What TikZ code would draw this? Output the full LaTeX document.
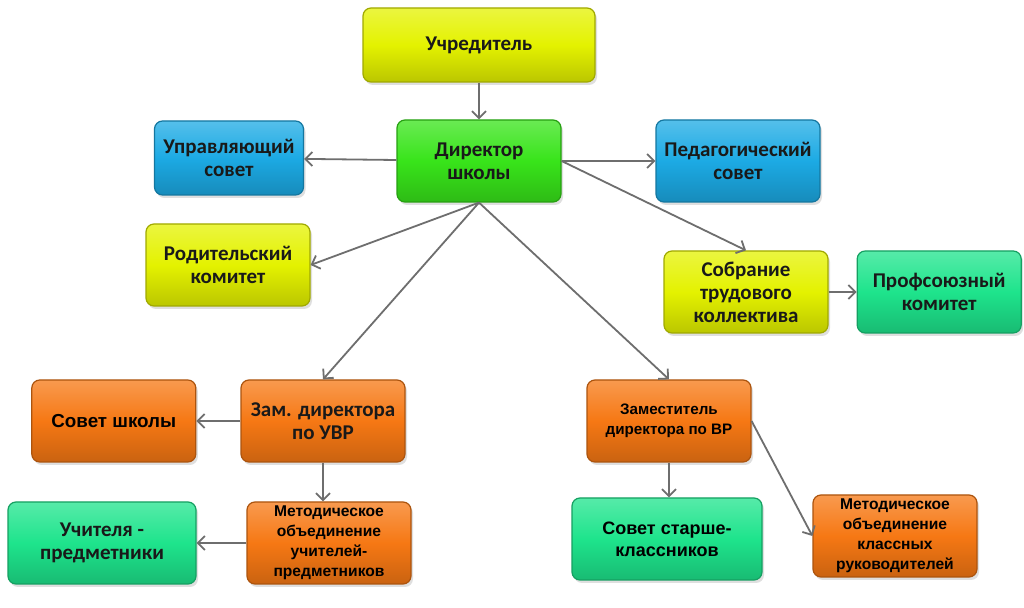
\documentclass[tikz,border=0pt]{standalone}
\usepackage{fontspec}
\setmainfont{Carlito}
\newfontfamily\arialfont{Liberation Sans}
\usetikzlibrary{positioning,arrows.meta,shadows}
\definecolor{blokyellow}{HTML}{E4F200}
\definecolor{blokgreen}{HTML}{38E41A}
\definecolor{blokblue}{HTML}{1CAAE4}
\definecolor{blokorange}{HTML}{F67814}
\definecolor{blokteal}{HTML}{1EE48C}
\definecolor{arrowgray}{HTML}{6E6E6E}

\begin{document}
\begin{tikzpicture}[
      x=0.5pt, y=-0.5pt,
      blk/.style={draw=#1!70!black,line width=0.6pt,rounded corners=4pt,
        top color=#1!75!white,bottom color=#1!82!black,middle color=#1,
        align=center,text=black!90,inner sep=1pt,
        font=\bfseries\fontsize{10.5}{11.5}\selectfont,
        minimum width=82pt,minimum height=41pt,
        drop shadow={opacity=0.25,shadow xshift=1pt,shadow yshift=-1.5pt}},
      ari/.style={font=\arialfont\bfseries\fontsize{#1}{10}\selectfont,text=black},
      arr/.style={-{Straight Barb[length=3.5pt,width=7pt]},line width=0.9pt,draw=arrowgray}
    ]
    \fill[white] (0,0) rectangle (1024,608);
    \useasboundingbox (0,0) rectangle (1024,608);

    % top level
    \node[blk=blokyellow, minimum width=116pt, minimum height=37pt] (uchr) at (479,45) {Учредитель};
    \node[blk=blokgreen] (dir) at (479,161) {Директор\\школы};
    \node[blk=blokblue, minimum width=74.5pt, minimum height=37pt] (upr) at (229,158) {Управляющий\\совет};
    \node[blk=blokblue] (ped) at (738,161) {Педагогический\\совет};
    \node[blk=blokyellow] (rod) at (228,265) {Родительский\\комитет};
    \node[blk=blokyellow] (sobr) at (746,292) {Собрание\\трудового\\коллектива};
    \node[blk=blokteal, right=14pt of sobr] (prof) {Профсоюзный\\комитет};

    % deputies
    \node[blk=blokorange] (uvr) at (323,421) {Зам. директора\\по УВР};
    \node[blk=blokorange, ari=9.4, left=22pt of uvr] (sovsh) {Совет школы};
    \node[blk=blokorange, ari=7.8] (mou) at (329,543) {Методическое\\объединение\\учителей-\\предметников};
    \node[blk=blokteal, minimum width=94pt] (uchit) at (102,543) {Учителя -\\предметники};
    \node[blk=blokorange, ari=7.6] (vr) at (669,421) {Заместитель\\директора по ВР};
    \node[blk=blokteal, minimum width=95pt, font=\arialfont\bfseries\fontsize{9}{11}\selectfont, text=black] (sst) at (667,539) {Совет старше-\\классников};
    \node[blk=blokorange, ari=7.8] (mkl) at (895,536) {Методическое\\объединение\\классных\\руководителей};

    \draw[arr] (uchr) -- (dir);
    \draw[arr] (dir) -- (upr);
    \draw[arr] (dir) -- (ped);
    \draw[arr] (dir.south) -- (rod.east);
    \draw[arr] (dir.east) -- (sobr.north);
    \draw[arr] (sobr) -- (prof);
    \draw[arr] (dir.south) -- (uvr.north);
    \draw[arr] (dir.south) -- (vr.north);
    \draw[arr] (uvr) -- (sovsh);
    \draw[arr] (uvr.south) -- (uvr.south |- mou.north);
    \draw[arr] (mou) -- (uchit);
    \draw[arr] (vr.south) -- (vr.south |- sst.north);
    \draw[arr] (vr.east) -- (mkl.west);
  \end{tikzpicture}
\end{document}
